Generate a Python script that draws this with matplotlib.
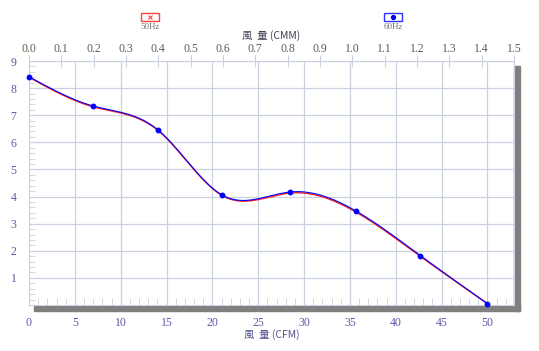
import numpy as np
import matplotlib
matplotlib.use('Agg')
import matplotlib.pyplot as plt
from matplotlib.patches import Rectangle
from matplotlib.lines import Line2D

# Fan curve data (airflow CFM vs static pressure)
cfm_60 = [0.0, 7.0, 14.1, 21.1, 28.5, 35.7, 42.7, 50.0]
pres_60 = [8.42, 7.34, 6.45, 4.05, 4.17, 3.46, 1.82, 0.05]
cfm_50 = [0.0, 7.0, 14.1, 21.1, 28.5, 35.7, 42.7, 50.0]
pres_50 = [8.40, 7.31, 6.43, 4.03, 4.13, 3.42, 1.79, 0.05]

cmm_ticks = [0.0, 0.1, 0.2, 0.3, 0.4, 0.5, 0.6, 0.7, 0.8, 0.9, 1.0, 1.1, 1.2, 1.3, 1.4, 1.5]
cfm_ticks = [0, 5, 10, 15, 20, 25, 30, 35, 40, 45, 50]
pres_ticks = [1, 2, 3, 4, 5, 6, 7, 8, 9]


def smooth(xs, ys, n=300):
    # natural cubic spline, just for drawing the smooth curve
    x = np.asarray(xs, float)
    y = np.asarray(ys, float)
    k = len(x)
    h = np.diff(x)
    A = np.zeros((k, k))
    b = np.zeros(k)
    A[0, 0] = A[-1, -1] = 1
    for i in range(1, k - 1):
        A[i, i - 1] = h[i - 1]
        A[i, i] = 2 * (h[i - 1] + h[i])
        A[i, i + 1] = h[i]
        b[i] = 3 * ((y[i + 1] - y[i]) / h[i] - (y[i] - y[i - 1]) / h[i - 1])
    c = np.linalg.solve(A, b)
    xx = np.linspace(x[0], x[-1], n)
    idx = np.clip(np.searchsorted(x, xx) - 1, 0, k - 2)
    dx = xx - x[idx]
    hi = h[idx]
    bb = (y[idx + 1] - y[idx]) / hi - hi * (2 * c[idx] + c[idx + 1]) / 3
    dd = (c[idx + 1] - c[idx]) / (3 * hi)
    yy = y[idx] + bb * dx + c[idx] * dx ** 2 + dd * dx ** 3
    return xx, yy


fig = plt.figure(figsize=(5.39, 3.51), dpi=100)
fig.patch.set_facecolor('white')
ax = fig.add_axes([29 / 539, 46 / 351, 485 / 539, 244 / 351])

grid_col = '#c9d2de'
num_font = 'Liberation Serif'
cjk = ['Noto Sans CJK TC', 'DejaVu Sans']

sx, sy = smooth(cfm_50, pres_50)
ax.plot(sx, sy, color='#ff2020', lw=1.0, zorder=3)
sx, sy = smooth(cfm_60, pres_60)
ax.plot(sx, sy, color='#0000ff', lw=0.8, zorder=4)
ax.plot(cfm_60, pres_60, 'o', color='#0000ff', ms=3.2, zorder=5, clip_on=False)

ax.set_xlim(0, 52.9)
ax.set_ylim(0, 9)
ax.set_xticks(cfm_ticks)
ax.set_xticklabels([str(t) for t in cfm_ticks], fontfamily=num_font, fontsize=8.5, color='#5a5aa8')
ax.set_xticks(np.arange(1, 53, 1), minor=True)
ax.set_yticks(pres_ticks)
ax.set_yticklabels([str(t) for t in pres_ticks], fontfamily=num_font, fontsize=8.5, color='#5a5aa8')
ax.set_yticks(np.arange(0, 9, 0.2), minor=True)
ax.tick_params(axis='x', which='major', length=0, pad=9)
ax.tick_params(axis='x', which='minor', direction='in', length=5, color=grid_col)
ax.tick_params(axis='y', which='major', length=0, pad=9)
ax.tick_params(axis='y', which='minor', direction='in', length=4, color=grid_col)
ax.grid(True, which='major', color=grid_col, lw=0.9)
for s in ax.spines.values():
    s.set_color(grid_col)
ax.set_xlabel('風  量 (CFM)', family=cjk, fontsize=7.5, color='#505090', labelpad=0)

top = ax.twiny()
top.set_xlim(0, 1.5)
top.set_xticks(cmm_ticks)
top.set_xticklabels(['%.1f' % t for t in cmm_ticks], fontfamily=num_font, fontsize=8.5, color='#6a5a48')
top.tick_params(axis='x', direction='inout', length=8, color=grid_col, pad=0)
for s in top.spines.values():
    s.set_visible(False)
top.set_xlabel('風  量 (CMM)', family=cjk, fontsize=7.5, color='#404050', labelpad=3)

# drop shadow on right and bottom
ax.add_patch(Rectangle((1.0, -0.025), 0.0124, 1.005, transform=ax.transAxes,
                       color='#7f7f7f', clip_on=False, zorder=1))
ax.add_patch(Rectangle((0.0103, -0.025), 1.0021, 0.02, transform=ax.transAxes,
                       color='#7f7f7f', clip_on=False, zorder=1))

# legend boxes at the top
legend_items = [('50Hz', 150, '#ff4040', 'x', '#ff4040'), ('60Hz', 393, '#3030ff', 'o', '#0000ff')]
for name, cx, ec, mk, mc in legend_items:
    fig.patches.append(Rectangle(((cx - 9) / 539, 1 - 21 / 351), 18 / 539, 8 / 351,
                                 transform=fig.transFigure, fill=False, ec=ec, lw=1.0))
    fig.add_artist(Line2D([cx / 539], [1 - 17 / 351], marker=mk, color=mc, ms=3,
                          mew=0.8, transform=fig.transFigure))
    fig.text(cx / 539, 1 - 27 / 351, name, ha='center', va='center', fontsize=6.5,
             fontfamily=num_font, color='#707070')

fig.savefig('out.png', dpi=100, facecolor='white')
